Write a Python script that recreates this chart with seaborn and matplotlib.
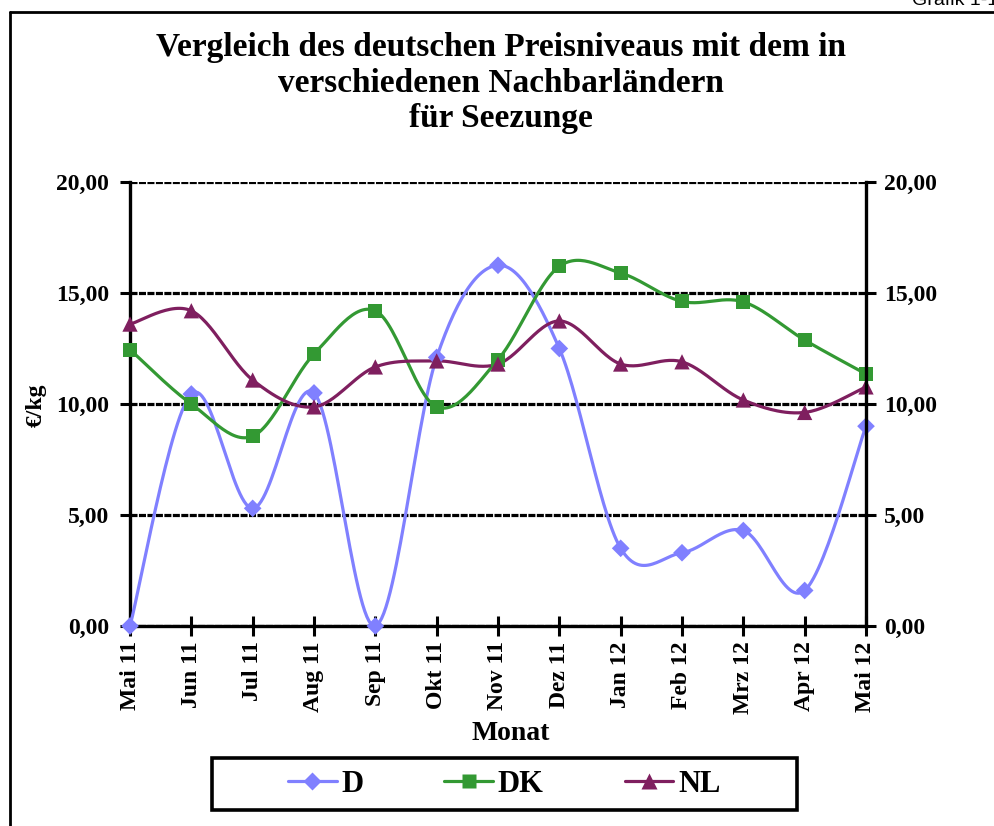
import matplotlib
matplotlib.use("Agg")
import matplotlib.pyplot as plt
import numpy as np
import pandas as pd
import seaborn as sns
from matplotlib.lines import Line2D
from matplotlib.patches import Rectangle
from matplotlib.ticker import FuncFormatter

monate = ["Mai 11", "Jun 11", "Jul 11", "Aug 11", "Sep 11", "Okt 11", "Nov 11",
          "Dez 11", "Jan 12", "Feb 12", "Mrz 12", "Apr 12", "Mai 12"]
preis_d = [0.0, 10.45, 5.3, 10.5, 0.0, 12.1, 16.25, 12.5, 3.5, 3.3, 4.3, 1.6, 9.0]
preis_dk = [12.45, 10.0, 8.55, 12.25, 14.2, 9.87, 12.0, 16.2, 15.9, 14.62, 14.6, 12.88, 11.35]
preis_nl = [13.6, 14.2, 11.08, 9.87, 11.67, 11.94, 11.8, 13.74, 11.8, 11.9, 10.18, 9.62, 10.77]
y_ticks = [0, 5, 10, 15, 20]

laender = ["D", "DK", "NL"]
farben = {"D": "#8080ff", "DK": "#339933", "NL": "#7f1f5f"}
marker = {"D": ("D", 9), "DK": ("s", 10), "NL": ("^", 11)}

df = pd.DataFrame({
    "pos": np.tile(np.arange(len(monate)), 3),
    "wert": preis_d + preis_dk + preis_nl,
    "land": np.repeat(laender, len(monate)),
})


def smooth_curve(y, n=30):
    # Excel-style smoothed line: cubic Bezier segments through the points
    y = np.asarray(y, dtype=float)
    p = np.column_stack([np.arange(len(y), dtype=float), y])
    pp = np.vstack([p[0], p, p[-1]])
    t = np.linspace(0, 1, n)[:, None]
    parts = []
    for i in range(len(p) - 1):
        p0, p1, p2, p3 = pp[i], pp[i + 1], pp[i + 2], pp[i + 3]
        c1 = p1 + (p2 - p0) / 6
        c2 = p2 - (p3 - p1) / 6
        seg = ((1 - t) ** 3 * p1 + 3 * (1 - t) ** 2 * t * c1
               + 3 * (1 - t) * t ** 2 * c2 + t ** 3 * p2)
        parts.append(seg if i == 0 else seg[1:])
    return np.vstack(parts)


sns.set_theme(style="white")
plt.rcParams["font.family"] = ["Liberation Serif", "DejaVu Serif"]
plt.rcParams["font.weight"] = "bold"
for key in ("text.color", "axes.labelcolor", "xtick.color", "ytick.color"):
    plt.rcParams[key] = "black"

W, H = 995, 826
fig = plt.figure(figsize=(W / 100, H / 100), dpi=100)
ax = fig.add_axes([130 / W, 1 - 626 / H, 736 / W, 444 / H])

for land in laender:
    sub = df[df["land"] == land]
    curve = smooth_curve(sub["wert"].to_numpy())
    ax.plot(curve[:, 0], curve[:, 1], color=farben[land], lw=2.3, zorder=3)
    m, ms = marker[land]
    sns.scatterplot(data=sub, x="pos", y="wert", ax=ax, marker=m,
                    s=ms ** 2, color=farben[land], edgecolor="none",
                    zorder=4, clip_on=False, legend=False)

fmt = FuncFormatter(lambda v, _: f"{v:.2f}".replace(".", ","))
ax.set_xlim(0, len(monate) - 1)
ax.set_ylim(0, 20)
ax.set_yticks(y_ticks)
ax.yaxis.set_major_formatter(fmt)
ax.set_xticks(range(len(monate)))
ax.set_xticklabels(monate, rotation=90, fontsize=17, fontweight="bold")
ax.set_xlabel("")
ax.set_ylabel("")
ax.tick_params(axis="y", direction="out", length=7, width=2.2, pad=8,
               labelsize=17, left=True)
ax.tick_params(axis="x", direction="inout", length=14, width=2.2, pad=4,
               bottom=True)
ax.yaxis.grid(True, color="black", linestyle=(0, (2.2, 0.45)), linewidth=2.3)
ax.set_axisbelow(True)
ax.spines["top"].set_visible(False)
ax.spines["right"].set_visible(False)
for s in ("left", "bottom"):
    ax.spines[s].set_color("black")
    ax.spines[s].set_linewidth(2.4)

ax2 = ax.twinx()
ax2.set_ylim(0, 20)
ax2.set_yticks(y_ticks)
ax2.yaxis.set_major_formatter(fmt)
ax2.tick_params(axis="y", direction="out", length=7, width=2.2, pad=6,
                labelsize=17, right=True)
ax2.grid(False)
for s in ("left", "top", "bottom"):
    ax2.spines[s].set_visible(False)
ax2.spines["right"].set_color("black")
ax2.spines["right"].set_linewidth(2.4)

fig.text(501 / W, 1 - 83 / H,
         "Vergleich des deutschen Preisniveaus mit dem in\n"
         "verschiedenen Nachbarländern\nfür Seezunge",
         ha="center", va="center", fontsize=24, fontweight="bold",
         linespacing=1.2)
fig.text(511 / W, 1 - 734 / H, "Monat", ha="center", va="center",
         fontsize=20, fontweight="bold")
fig.text(36 / W, 1 - 405 / H, "€/kg", ha="center", va="center",
         rotation=90, fontsize=17, fontweight="bold")
fig.text(912 / W, 1 - 5 / H, "Grafik 1-1", ha="left", va="baseline",
         fontsize=14, fontweight="normal", family="Liberation Sans")

# outer frame lines (top and left edge of the chart area)
fig.add_artist(Line2D([10 / W, 10 / W], [0, 1 - 12 / H], color="black",
                      lw=2, transform=fig.transFigure))
fig.add_artist(Line2D([10 / W, 1], [1 - 12 / H, 1 - 12 / H], color="black",
                      lw=2, transform=fig.transFigure))

handles = []
for land in laender:
    m, ms = marker[land]
    handles.append(Line2D([], [], color=farben[land], lw=2.3, marker=m,
                          markersize=ms, markeredgecolor="none"))
fig.legend(handles, laender, loc="center", ncol=3,
           bbox_to_anchor=(504 / W, 1 - 784 / H), frameon=False,
           prop={"size": 22, "weight": "bold"}, handlelength=1.6,
           handletextpad=0.15, columnspacing=2.65)
fig.add_artist(Rectangle((212 / W, 1 - 810 / H), 585 / W, 52 / H,
                         fill=False, edgecolor="black", lw=2.6,
                         transform=fig.transFigure))

fig.savefig("out.png", dpi=100)
